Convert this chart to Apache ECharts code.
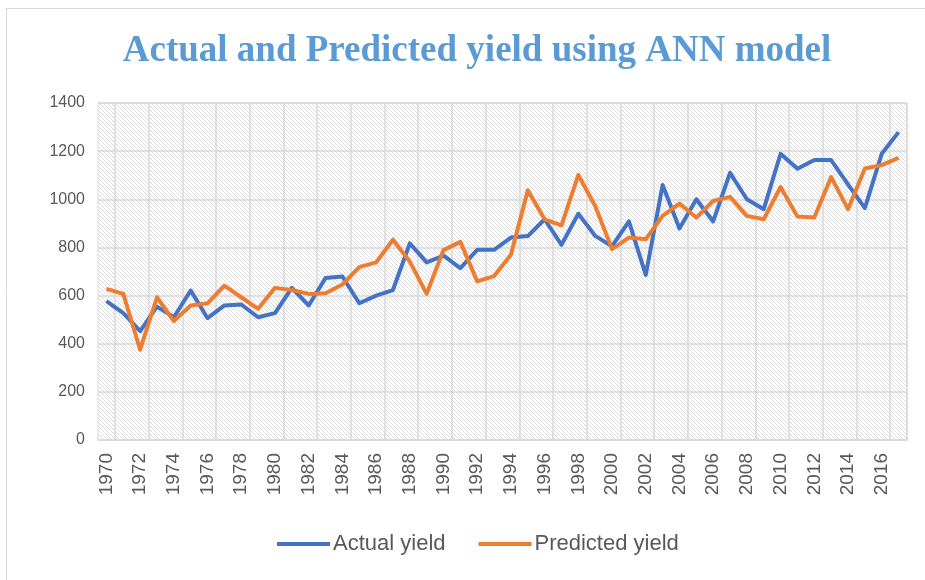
<!DOCTYPE html>
<html>
<head>
<meta charset="utf-8">
<script src="https://cdn.jsdelivr.net/npm/echarts@6/dist/echarts.min.js"></script>
<style>
  html, body { margin: 0; padding: 0; background: #ffffff; }
  #chart { width: 925px; height: 580px; }
</style>
</head>
<body>
<div id="chart"></div>
<script>
// Crop yield by year: observed values vs. the ANN model's predictions
const years = [];
for (let y = 1970; y <= 2017; y++) years.push(String(y));

const actualYield = [
  577, 527, 452, 554, 510, 621, 506, 559, 563, 510,
  527, 632, 559, 673, 679, 568, 600, 623, 817, 738,
  766, 714, 790, 790, 841, 847, 917, 811, 940, 848,
  805, 908, 686, 1059, 879, 1000, 908, 1110, 1000, 959,
  1189, 1127, 1163, 1163, 1062, 963, 1189, 1279
];

const predictedYield = [
  628, 607, 375, 593, 494, 559, 568, 641, 593, 545,
  632, 623, 607, 610, 646, 718, 738, 832, 741, 607,
  789, 823, 659, 681, 770, 1037, 917, 892, 1101, 972,
  793, 841, 834, 931, 982, 924, 993, 1010, 931, 917,
  1051, 928, 924, 1092, 959, 1128, 1142, 1172
];

const yTicks = { min: 0, max: 1400, step: 200 };

// Downward-diagonal hatch used to fill the plot area
function hatchPattern() {
  const c = document.createElement('canvas');
  c.width = 4; c.height = 4;
  const g = c.getContext('2d');
  g.fillStyle = '#ffffff';
  g.fillRect(0, 0, 4, 4);
  g.fillStyle = '#dcdcdc';
  for (let k = 0; k < 4; k++) g.fillRect(k, k, 1, 1);
  return { image: c, repeat: 'repeat' };
}

const chart = echarts.init(document.getElementById('chart'));

chart.setOption({
  animation: false,
  backgroundColor: '#ffffff',
  graphic: [{
    type: 'rect',
    left: 4, top: 6,
    shape: { width: 940, height: 600 },
    style: { fill: 'none', stroke: '#d9d9d9', lineWidth: 1 },
    silent: true,
    z: -10
  }],
  title: {
    text: 'Actual and Predicted yield using ANN model',
    left: 472,
    textAlign: 'center',
    top: 28,
    textStyle: {
      fontFamily: 'Liberation Serif',
      fontWeight: 'bold',
      fontSize: 37,
      color: '#5B9BD5'
    }
  },
  grid: {
    left: 98, right: 18, top: 103, bottom: 140,
    show: true,
    backgroundColor: hatchPattern(),
    borderColor: '#d9d9d9',
    borderWidth: 1
  },
  legend: {
    bottom: 20,
    left: 272,
    itemGap: 33,
    itemWidth: 53,
    itemHeight: 4,
    icon: 'rect',
    textStyle: { fontFamily: 'Liberation Sans', fontSize: 22, color: '#595959', padding: [0, 0, 0, -2] },
    data: ['Actual yield', 'Predicted yield']
  },
  xAxis: {
    type: 'category',
    data: years,
    boundaryGap: true,
    axisLine: { show: true, lineStyle: { color: '#d9d9d9', width: 1 } },
    axisTick: { show: false },
    axisLabel: {
      interval: 1,
      rotate: 90,
      margin: 13,
      fontFamily: 'Liberation Sans',
      fontSize: 19,
      color: '#595959'
    },
    splitLine: {
      show: true,
      interval: function (index) { return index % 2 === 1; },
      lineStyle: { color: '#d9d9d9', width: 1.5 }
    }
  },
  yAxis: {
    type: 'value',
    min: yTicks.min,
    max: yTicks.max,
    interval: yTicks.step,
    axisLine: { show: false },
    axisTick: { show: false },
    axisLabel: {
      margin: 13,
      formatter: function (v) { return String(v); },
      fontFamily: 'Liberation Sans',
      fontSize: 16,
      color: '#595959'
    },
    splitLine: { show: true, lineStyle: { color: '#d9d9d9', width: 1.5 } }
  },
  series: [
    {
      name: 'Actual yield',
      type: 'line',
      data: actualYield,
      symbol: 'none',
      color: '#4472C4',
      lineStyle: { width: 4, color: '#4472C4', join: 'round' },
      z: 3
    },
    {
      name: 'Predicted yield',
      type: 'line',
      data: predictedYield,
      symbol: 'none',
      color: '#ED7D31',
      lineStyle: { width: 4, color: '#ED7D31', join: 'round' },
      z: 4
    }
  ]
});
</script>
</body>
</html>
